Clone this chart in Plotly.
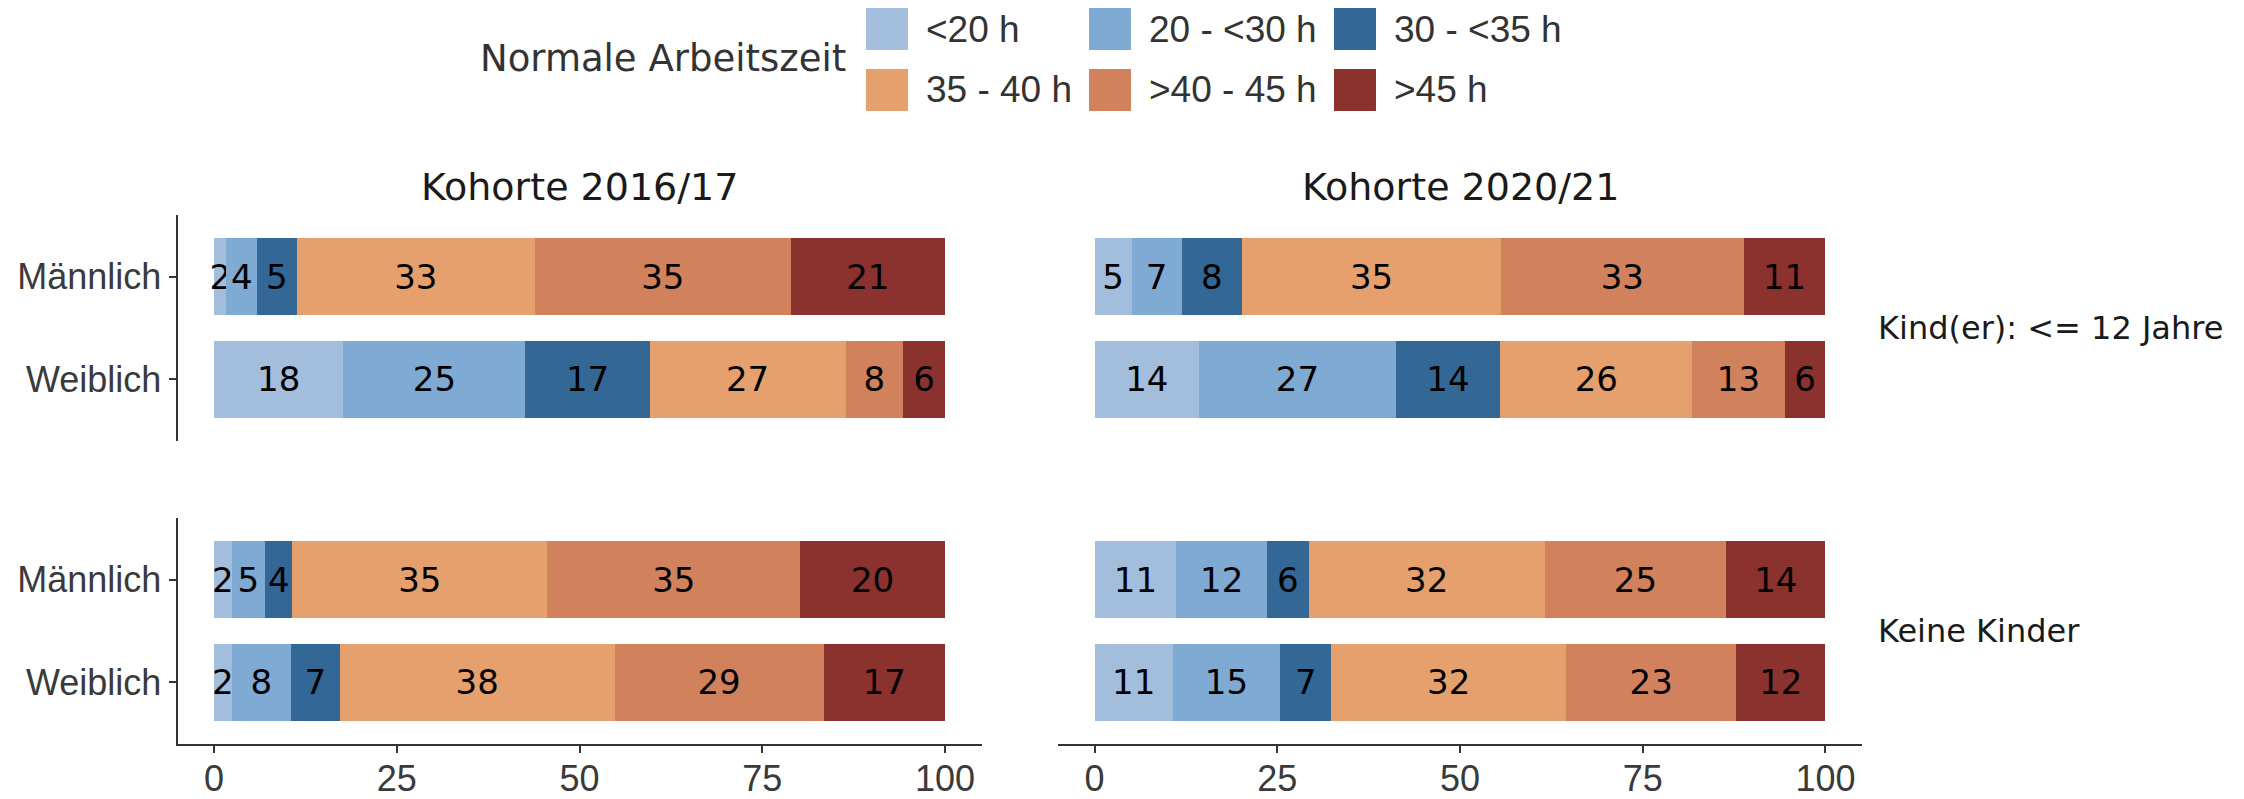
import plotly.graph_objects as go

W, H = 2244, 799          # browser window
OFF = 8                   # default page body margin in the browser
FW, FH = W - OFF, H - OFF # figure size so that it fits the window exactly

# ---------------- data ----------------
categories = ["<20 h", "20 - <30 h", "30 - <35 h", "35 - 40 h", ">40 - 45 h", ">45 h"]
colors = ["#a2bedc", "#7eaad3", "#336896", "#e6a06d", "#d2815d", "#8b322e"]
genders = ["Männlich", "Weiblich"]
cohorts = ["Kohorte 2016/17", "Kohorte 2020/21"]
children_groups = ["Kind(er): <= 12 Jahre", "Keine Kinder"]

# shares (%) per working-time category, order as in `categories`
kinder12_2016_m = [1.7, 4.2, 5.4, 32.6, 35.0, 21.1]
kinder12_2016_w = [17.7, 24.9, 17.0, 26.8, 7.9, 5.7]
kinder12_2020_m = [5.1, 6.8, 8.3, 35.4, 33.2, 11.2]
kinder12_2020_w = [14.3, 26.9, 14.3, 26.3, 12.6, 5.6]
keine_2016_m = [2.4, 4.6, 3.7, 34.9, 34.6, 19.8]
keine_2016_w = [2.4, 8.1, 6.7, 37.6, 28.6, 16.6]
keine_2020_m = [11.2, 12.4, 5.7, 32.3, 24.8, 13.6]
keine_2020_w = [10.7, 14.7, 7.0, 32.1, 23.3, 12.2]

x_ticks = [0, 25, 50, 75, 100]

panels = [
    (kinder12_2016_m, kinder12_2016_w),  # row 0, col 0
    (kinder12_2020_m, kinder12_2020_w),  # row 0, col 1
    (keine_2016_m, keine_2016_w),        # row 1, col 0
    (keine_2020_m, keine_2020_w),        # row 1, col 1
]


# ---------------- layout geometry (screen pixels -> paper) ----------------
def px(x):
    return (x - OFF) / FW


def py(y):
    return 1 - (y - OFF) / FH


X_DOM = [[px(177.5), px(981.5)], [px(1058), px(1862)]]
Y_DOM = [[py(441), py(215)], [py(744), py(518)]]

AX_COLOR = "#333333"
SANS = "Liberation Sans, Arial, sans-serif"
DEJAVU = "DejaVu Sans, sans-serif"
TICK_FONT = dict(family=SANS, size=36, color="#3a3a3a")

fig = go.Figure()


def sfx(p):
    return "" if p == 0 else str(p + 1)


for p, (m_vals, w_vals) in enumerate(panels):
    for i, cat in enumerate(categories):
        vals = [m_vals[i], w_vals[i]]
        fig.add_trace(go.Bar(
            x=vals,
            y=genders,
            orientation="h",
            name=cat,
            marker=dict(color=colors[i], line=dict(width=0)),
            width=0.75,
            text=[str(round(v)) for v in vals],
            textposition="inside",
            insidetextanchor="middle",
            textangle=0,
            constraintext="none",
            textfont=dict(family=DEJAVU, size=34, color="black"),
            xaxis="x" + sfx(p),
            yaxis="y" + sfx(p),
            showlegend=False,
            hoverinfo="skip",
        ))

layout = dict(
    width=FW, height=FH,
    margin=dict(l=0, r=0, t=0, b=0),
    paper_bgcolor="white", plot_bgcolor="white",
    barmode="stack",
    showlegend=False,
)

for p in range(4):
    row, col = divmod(p, 2)
    s = sfx(p)
    bottom = row == 1
    left = col == 0
    layout["xaxis" + s] = dict(
        domain=X_DOM[col], anchor="y" + s, range=[-5, 105],
        showgrid=False, zeroline=False,
        showline=bottom, linecolor=AX_COLOR, linewidth=2,
        ticks="outside" if bottom else "", ticklen=7, tickwidth=2, tickcolor=AX_COLOR,
        tickvals=x_ticks, showticklabels=bottom, tickfont=TICK_FONT,
        ticklabelstandoff=-5,
        automargin=False,
        fixedrange=True,
    )
    layout["yaxis" + s] = dict(
        domain=Y_DOM[row], anchor="x" + s, type="category",
        categoryorder="array", categoryarray=genders, range=[1.6, -0.6],
        showgrid=False, zeroline=False,
        showline=left, linecolor=AX_COLOR, linewidth=2,
        ticks="outside" if left else "", ticklen=7, tickwidth=2, tickcolor=AX_COLOR,
        showticklabels=left, tickfont=TICK_FONT,
        ticklabelstandoff=0,
        automargin=False,
        fixedrange=True,
    )

annotations = []
shapes = []

# column strips (top)
for c, lab in enumerate(cohorts):
    annotations.append(dict(
        text=lab, xref="paper", yref="paper",
        x=(X_DOM[c][0] + X_DOM[c][1]) / 2, y=py(187),
        xanchor="center", yanchor="middle", showarrow=False,
        font=dict(family=DEJAVU, size=38, color="#1a1a1a"),
    ))
# row strips (right)
for r, lab in enumerate(children_groups):
    annotations.append(dict(
        text=lab, xref="paper", yref="paper",
        x=px(1876), y=(Y_DOM[r][0] + Y_DOM[r][1]) / 2,
        xanchor="left", yanchor="middle", showarrow=False,
        font=dict(family=DEJAVU, size=32, color="#1a1a1a"),
    ))

# legend (2 rows x 3 columns, title on the left)
LEG_COL_X = [866, 1089, 1334]
LEG_ROW_TOP = [8, 69]
KEY = 42
annotations.append(dict(
    text="Normale Arbeitszeit", xref="paper", yref="paper",
    x=px(848), y=py(59), xanchor="right", yanchor="middle", showarrow=False,
    font=dict(family=DEJAVU, size=37, color="#333333"),
))
for i, cat in enumerate(categories):
    r, c = divmod(i, 3)
    x0 = LEG_COL_X[c]
    y0 = LEG_ROW_TOP[r]
    shapes.append(dict(
        type="rect", xref="paper", yref="paper",
        x0=px(x0), x1=px(x0 + KEY), y0=py(y0 + KEY), y1=py(y0),
        fillcolor=colors[i], line=dict(width=0),
    ))
    annotations.append(dict(
        text=cat, xref="paper", yref="paper",
        x=px(x0 + 58), y=py(y0 + KEY / 2),
        xanchor="left", yanchor="middle", showarrow=False,
        font=dict(family=SANS, size=37, color="#333333"),
    ))

layout["annotations"] = annotations
layout["shapes"] = shapes
fig.update_layout(**layout)

fig.write_html("out.html")
